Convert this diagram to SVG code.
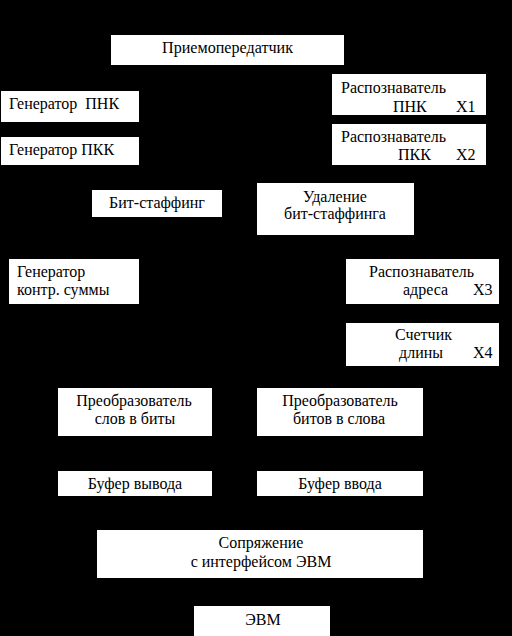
<svg xmlns="http://www.w3.org/2000/svg" width="512" height="636" viewBox="0 0 512 636">
<style>
.b{fill:#fff;stroke:none}
.t text{font-size:16px;fill:#000}
.m{text-anchor:middle}
</style>
<rect x="0" y="0" width="512" height="636" fill="#000"/>
<g id="connectors"></g>
<g class="t" font-family="Liberation Serif, Tinos, Times New Roman, DejaVu Serif, serif">
<g id="n1"><rect class="b" x="111" y="35" width="233" height="30"/><text x="162" y="53" textLength="131" lengthAdjust="spacingAndGlyphs">Приемопередатчик</text></g>
<g id="n2"><rect class="b" x="1" y="91" width="138" height="31"/><text x="9" y="109" xml:space="preserve">Генератор  ПНК</text></g>
<g id="n3"><rect class="b" x="1" y="137" width="138" height="28"/><text x="9" y="155">Генератор ПКК</text></g>
<g id="n4"><rect class="b" x="332" y="74" width="154" height="41"/><text x="341" y="93">Распознаватель</text><text x="393" y="112">ПНК</text><text x="456" y="112">X1</text></g>
<g id="n5"><rect class="b" x="332" y="124" width="154" height="41"/><text x="341" y="142">Распознаватель</text><text x="398" y="160">ПКК</text><text x="456" y="160">X2</text></g>
<g id="n6"><rect class="b" x="92" y="190" width="130" height="27"/><text class="m" x="157" y="208">Бит-стаффинг</text></g>
<g id="n7"><rect class="b" x="257" y="183" width="157" height="52"/><text class="m" x="335" y="202">Удаление</text><text class="m" x="335" y="219">бит-стаффинга</text></g>
<g id="n8"><rect class="b" x="9" y="259" width="130" height="45"/><text x="17" y="277">Генератор</text><text x="17" y="295">контр. суммы</text></g>
<g id="n9"><rect class="b" x="346" y="259" width="153" height="45"/><text x="369" y="277">Распознаватель</text><text x="403" y="295">адреса</text><text x="473" y="295">X3</text></g>
<g id="n10"><rect class="b" x="346" y="323" width="153" height="43"/><text x="395" y="340">Счетчик</text><text x="399" y="358">длины</text><text x="473" y="358">X4</text></g>
<g id="n11"><rect class="b" x="58" y="388" width="154" height="48"/><text class="m" x="134" y="406">Преобразователь</text><text class="m" x="135" y="424">слов в биты</text></g>
<g id="n12"><rect class="b" x="257" y="388" width="166" height="48"/><text class="m" x="340" y="406">Преобразователь</text><text class="m" x="339" y="424">битов в слова</text></g>
<g id="n13"><rect class="b" x="58" y="471" width="154" height="25"/><text class="m" x="135" y="489">Буфер вывода</text></g>
<g id="n14"><rect class="b" x="257" y="471" width="166" height="25"/><text class="m" x="340" y="489">Буфер ввода</text></g>
<g id="n15"><rect class="b" x="97" y="530" width="326" height="48"/><text class="m" x="261" y="548">Сопряжение</text><text class="m" x="261" y="567">с интерфейсом ЭВМ</text></g>
<g id="n16"><rect class="b" x="194" y="606" width="136" height="30"/><text class="m" x="263" y="625">ЭВМ</text></g>
</g>
</svg>
